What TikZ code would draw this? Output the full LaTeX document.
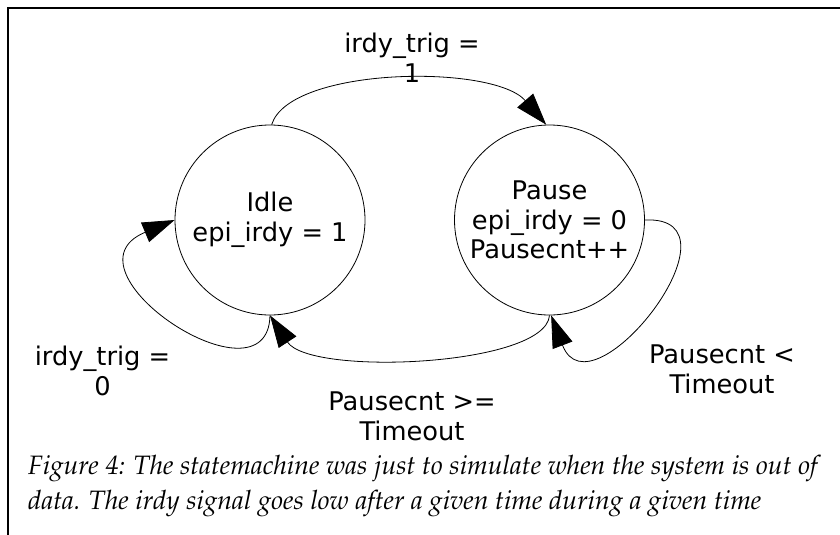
\documentclass[tikz,border=0pt]{standalone}
\usepackage[T1]{fontenc}
\usepackage{fontspec}
\setsansfont{DejaVu Sans}
\usepackage{tikz}
\usetikzlibrary{arrows.meta}
\newcommand{\statefont}{\sffamily\fontsize{25.7}{29.5}\selectfont}
\newcommand{\capfont}{\fontencoding{T1}\fontfamily{ppl}\fontshape{it}\fontsize{26.6}{35}\selectfont}

\begin{document}
\begin{tikzpicture}[
    x=1pt, y=-1pt,
    state/.style={draw, circle, minimum size=190pt, inner sep=0pt,
                  align=center, line width=0.8pt, font=\statefont},
    lbl/.style={align=center, anchor=base, inner sep=0pt, font=\statefont},
    trans/.style={-{Triangle[length=32pt, width=21pt]}, line width=0.8pt},
]
  \useasboundingbox (0,0) rectangle (840,535);
  \draw[line width=1.5pt] (840,8) -- (8,8) -- (8,535);

  \node[state] (idle)  at (270,220)   {Idle\\epi\_irdy = 1};
  \node[state] (pause) at (549.5,220) {Pause\\epi\_irdy = 0\\Pausecnt++};

  \draw[trans] (idle.89) .. controls +(18,-58) and +(-53,-61) .. (pause.92);
  \draw[trans] (idle.270) .. controls +(-2,96) and +(-120,50) .. (idle.180);
  \draw[trans] (pause.270) .. controls +(-4,51) and +(40,61) .. (idle.270);
  \draw[trans] (pause.0) .. controls +(106,-5) and +(40,105) .. (pause.271);

  \node[lbl] (trig1) at (412,82)    {irdy\_trig =\\1};
  \node[lbl] (trig0) at (102.5,395) {irdy\_trig =\\0};
  \node[lbl] (tmo)   at (412,440)   {Pausecnt >=\\Timeout};
  \node[lbl] (cnt)   at (722,393)   {Pausecnt <\\Timeout};

  \node[anchor=base west, align=left, inner sep=0pt, font=\capfont] (caption) at (28,509)
    {Figure 4: The statemachine was just to simulate when the system is out of\\
     data. The irdy signal goes low after a given time during a given time};
\end{tikzpicture}
\end{document}
